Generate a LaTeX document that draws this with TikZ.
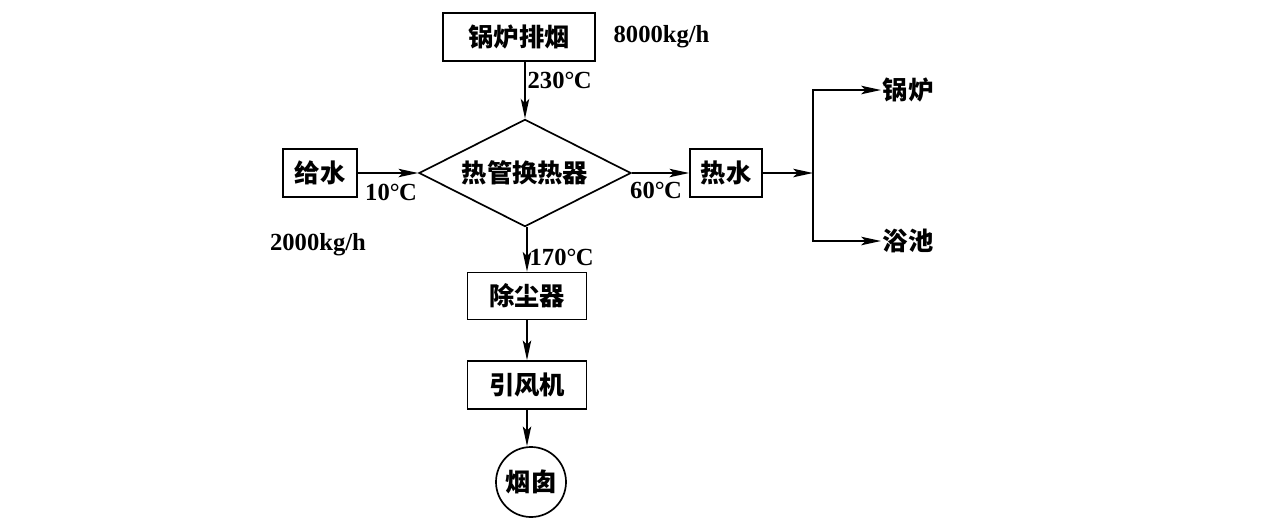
\documentclass[tikz,border=0pt]{standalone}
\usepackage{fontspec}
\setmainfont{Liberation Serif}
\newfontfamily\cjk{Noto Sans CJK SC}
\usepackage{tikz}
\usetikzlibrary{shapes.geometric, arrows.meta, positioning}

\newcommand{\degc}{°\kern-0.5pt C}

\begin{document}
\begin{tikzpicture}[x=0.025cm, y=-0.025cm,
  unit/.style={draw, line width=1.2pt, minimum height=1.2cm, inner sep=0pt, font=\cjk\bfseries\fontsize{18}{21}\selectfont},
  hexch/.style={draw, diamond, aspect=2, line width=1.2pt, minimum width=5.3cm, minimum height=2.68cm, inner sep=0pt, font=\cjk\bfseries\fontsize{18}{21}\selectfont},
  stack/.style={draw, circle, line width=1.2pt, minimum size=1.75cm, inner sep=0pt, font=\cjk\bfseries\fontsize{18}{21}\selectfont},
  dest/.style={inner sep=1pt, font=\cjk\bfseries\fontsize{18}{21}\selectfont},
  temp/.style={inner sep=1pt, font=\bfseries\fontsize{17.5}{20}\selectfont},
  flow/.style={line width=1.2pt, -{Stealth[length=14pt, width=6pt, inset=3pt]}},
]
\useasboundingbox (0,0) rectangle (1265,528);

% main line (flue gas)
\node[unit, minimum width=3.8cm] (flue) at (519,37) {锅炉排烟};
\node[temp, anchor=west] (r8000) at (612,37) {8000kg/h};
\node[hexch] (hx) at (525,173) {热管换热器};
\node[unit, minimum width=2.975cm, minimum height=1.175cm] (dust) at (527,296) {除尘器};
\node[unit, minimum width=2.975cm, minimum height=1.2cm] (fan) at (527,385) {引风机};
\node[stack] (chim) at (531,482) {烟囱};

% water side
\node[unit, minimum width=1.85cm] (feed) at (320,173) {给水};
\node[temp] (r2000) at (318,245) {2000kg/h};
\node[unit, minimum width=1.8cm] (hot) at (726,173) {热水};
\coordinate (split) at (813,173);
\node[dest, anchor=west] (boiler) at (881,90) {锅炉};
\node[dest, anchor=west] (bath) at (881,241) {浴池};

% temperatures
\node[temp, anchor=west] (t230) at (526,80) {230\degc};
\node[temp] (t10) at (391,192) {10\degc};
\node[temp] (t60) at (656,190) {60\degc};
\node[temp, anchor=west] (t170) at (528,257) {170\degc};

\draw[flow] (hx.north |- flue.south) -- (hx.north);
\draw[flow] (dust.north |- hx.south) -- (dust.north);
\draw[flow] (dust.south) -- (fan.north);
\draw[flow] (fan.south) -- (fan.south |- chim.north);
\draw[flow] (feed.east) -- (hx.west);
\draw[flow] (hx.east) -- (hot.west);
\draw[flow] (hot.east) -- (split);
\draw[flow] (split) |- (boiler.west);
\draw[flow] (split) |- (bath.west);
\end{tikzpicture}
\end{document}
